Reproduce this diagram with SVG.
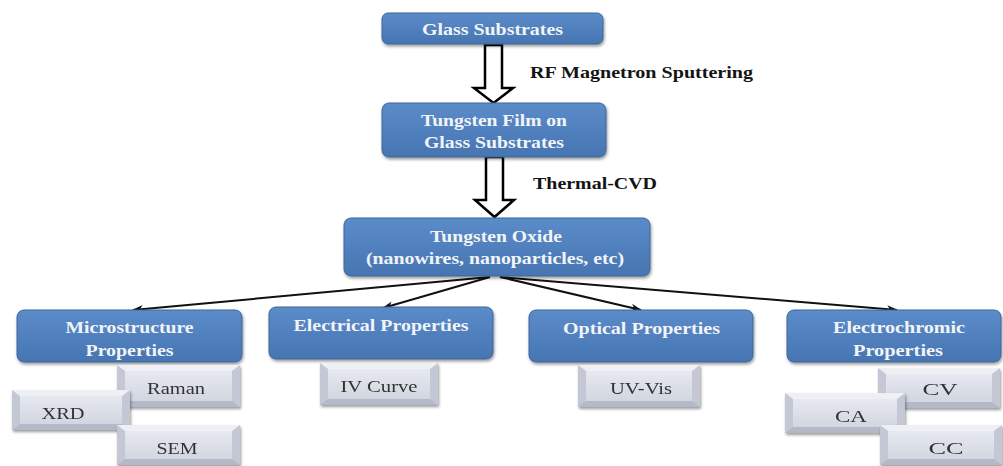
<svg xmlns="http://www.w3.org/2000/svg" width="1003" height="466" viewBox="0 0 1003 466">
<style>
.bb{fill:url(#gBlue);stroke:#3d6698;stroke-width:1;filter:url(#sh)}
.bt{font-family:"Liberation Serif","Times New Roman",serif;font-weight:bold;font-size:17px;fill:#f2f4f8;text-anchor:middle}
.lbl{font-family:"Liberation Serif","Times New Roman",serif;font-weight:bold;font-size:17px;fill:#141414}
.gt{font-family:"Liberation Serif","Times New Roman",serif;font-size:16px;fill:#333;text-anchor:middle}
.blk{fill:#fff;stroke:#000;stroke-width:2.5;stroke-linejoin:miter}
.con{fill:none;stroke:#111;stroke-width:2;marker-end:url(#ah)}
.bo{fill:#c3c8d4}
.btop{fill:#eef0f5}
.bbot{fill:#b3b9c7}
.bin{fill:url(#gGray)}
</style>
<defs>
<linearGradient id="gBlue" x1="0" y1="0" x2="0" y2="1">
<stop offset="0" stop-color="#5b8cc9"/>
<stop offset="1" stop-color="#4675b2"/>
</linearGradient>
<linearGradient id="gGray" x1="0" y1="0" x2="0" y2="1">
<stop offset="0" stop-color="#e6e9f0"/>
<stop offset="1" stop-color="#d2d6e0"/>
</linearGradient>
<filter id="sh" x="-10%" y="-20%" width="130%" height="160%">
<feGaussianBlur in="SourceAlpha" stdDeviation="1.5"/>
<feOffset dx="1" dy="2" result="b"/>
<feComponentTransfer><feFuncA type="linear" slope="0.4"/></feComponentTransfer>
<feMerge><feMergeNode/><feMergeNode in="SourceGraphic"/></feMerge>
</filter>
<marker id="ah" markerWidth="12" markerHeight="10" refX="10" refY="4" orient="auto" markerUnits="userSpaceOnUse">
<path d="M0,0 L11,4 L0,8 L3,4 Z" fill="#111"/>
</marker>
<g id="bevel">
</g>
</defs>
<rect width="1003" height="466" fill="#fff"/>

<g id="connectors">
<path class="blk" d="M485,45 L502,45 L502,88 L513,88 L493.5,103 L474,88 L485,88 Z"/>
<path class="blk" d="M486,157 L503,157 L503,200 L514,200 L494.5,217 L475,200 L486,200 Z"/>
<line class="con" x1="490" y1="277" x2="133" y2="310"/>
<line class="con" x1="490" y1="277" x2="383" y2="308"/>
<line class="con" x1="500" y1="277" x2="641" y2="310"/>
<line class="con" x1="500" y1="277" x2="897" y2="310"/>
<text class="lbl" x="530" y="78" textLength="223" lengthAdjust="spacingAndGlyphs">RF Magnetron Sputtering</text>
<text class="lbl" x="533" y="189" textLength="124" lengthAdjust="spacingAndGlyphs">Thermal-CVD</text>
</g>

<g id="glass">
<rect class="bb" x="382" y="13" width="221" height="31" rx="6"/>
<text class="bt" x="492.5" y="35" textLength="141" lengthAdjust="spacingAndGlyphs">Glass Substrates</text>
</g>

<g id="film">
<rect class="bb" x="382" y="103" width="224" height="54" rx="7"/>
<text class="bt" x="494" y="126" textLength="146" lengthAdjust="spacingAndGlyphs">Tungsten Film on</text>
<text class="bt" x="494" y="148" textLength="140" lengthAdjust="spacingAndGlyphs">Glass Substrates</text>
</g>

<g id="oxide">
<rect class="bb" x="344" y="218" width="306" height="58" rx="7"/>
<text class="bt" x="496" y="242" textLength="132" lengthAdjust="spacingAndGlyphs">Tungsten Oxide</text>
<text class="bt" x="495" y="264" textLength="258" lengthAdjust="spacingAndGlyphs">(nanowires, nanoparticles, etc)</text>
</g>

<g id="micro">
<rect class="bb" x="17" y="310" width="225" height="52" rx="7"/>
<text class="bt" x="129.5" y="333" textLength="128" lengthAdjust="spacingAndGlyphs">Microstructure</text>
<text class="bt" x="129.5" y="356" textLength="88" lengthAdjust="spacingAndGlyphs">Properties</text>
</g>

<g id="electrical">
<rect class="bb" x="269" y="307" width="224" height="52" rx="7"/>
<text class="bt" x="381" y="331" textLength="175" lengthAdjust="spacingAndGlyphs">Electrical Properties</text>
</g>

<g id="optical">
<rect class="bb" x="529" y="310" width="224" height="52" rx="7"/>
<text class="bt" x="641.5" y="334" textLength="157" lengthAdjust="spacingAndGlyphs">Optical Properties</text>
</g>

<g id="electrochromic">
<rect class="bb" x="787" y="310" width="214" height="52" rx="7"/>
<text class="bt" x="899" y="333" textLength="132" lengthAdjust="spacingAndGlyphs">Electrochromic</text>
<text class="bt" x="898" y="356" textLength="90" lengthAdjust="spacingAndGlyphs">Properties</text>
</g>

<g id="raman" filter="url(#sh)">
<rect class="bo" x="117" y="365" width="123" height="42"/>
<path class="btop" d="M117,365 L240,365 L232,371 L125,371 Z"/>
<path class="bbot" d="M117,407 L240,407 L232,401 L125,401 Z"/>
<rect class="bin" x="125" y="371" width="107" height="30"/>
<text class="gt" x="176" y="394" textLength="58" lengthAdjust="spacingAndGlyphs">Raman</text>
</g>

<g id="xrd" filter="url(#sh)">
<rect class="bo" x="12" y="390" width="118" height="40"/>
<path class="btop" d="M12,390 L130,390 L122,396 L20,396 Z"/>
<path class="bbot" d="M12,430 L130,430 L122,424 L20,424 Z"/>
<rect class="bin" x="20" y="396" width="102" height="28"/>
<text class="gt" x="63" y="419" textLength="43" lengthAdjust="spacingAndGlyphs">XRD</text>
</g>

<g id="sem" filter="url(#sh)">
<rect class="bo" x="117" y="425" width="123" height="40"/>
<path class="btop" d="M117,425 L240,425 L232,431 L125,431 Z"/>
<path class="bbot" d="M117,465 L240,465 L232,459 L125,459 Z"/>
<rect class="bin" x="125" y="431" width="107" height="28"/>
<text class="gt" x="177" y="454" textLength="41" lengthAdjust="spacingAndGlyphs">SEM</text>
</g>

<g id="ivcurve" filter="url(#sh)">
<rect class="bo" x="320" y="363" width="118" height="42"/>
<path class="btop" d="M320,363 L438,363 L430,369 L328,369 Z"/>
<path class="bbot" d="M320,405 L438,405 L430,399 L328,399 Z"/>
<rect class="bin" x="328" y="369" width="102" height="30"/>
<text class="gt" x="379" y="392" textLength="77" lengthAdjust="spacingAndGlyphs">IV Curve</text>
</g>

<g id="uvvis" filter="url(#sh)">
<rect class="bo" x="578" y="365" width="122" height="42"/>
<path class="btop" d="M578,365 L700,365 L692,371 L586,371 Z"/>
<path class="bbot" d="M578,407 L700,407 L692,401 L586,401 Z"/>
<rect class="bin" x="586" y="371" width="106" height="30"/>
<text class="gt" x="641" y="394" textLength="62" lengthAdjust="spacingAndGlyphs">UV-Vis</text>
</g>

<g id="cv" filter="url(#sh)">
<rect class="bo" x="878" y="368" width="122" height="40"/>
<path class="btop" d="M878,368 L1000,368 L992,374 L886,374 Z"/>
<path class="bbot" d="M878,408 L1000,408 L992,402 L886,402 Z"/>
<rect class="bin" x="886" y="374" width="106" height="28"/>
<text class="gt" x="940" y="395" textLength="35" lengthAdjust="spacingAndGlyphs">CV</text>
</g>

<g id="ca" filter="url(#sh)">
<rect class="bo" x="785" y="393" width="120" height="40"/>
<path class="btop" d="M785,393 L905,393 L897,399 L793,399 Z"/>
<path class="bbot" d="M785,433 L905,433 L897,427 L793,427 Z"/>
<rect class="bin" x="793" y="399" width="104" height="28"/>
<text class="gt" x="851" y="422" textLength="32" lengthAdjust="spacingAndGlyphs">CA</text>
</g>

<g id="cc" filter="url(#sh)">
<rect class="bo" x="880" y="425" width="122" height="40"/>
<path class="btop" d="M880,425 L1002,425 L994,431 L888,431 Z"/>
<path class="bbot" d="M880,465 L1002,465 L994,459 L888,459 Z"/>
<rect class="bin" x="888" y="431" width="106" height="28"/>
<text class="gt" x="946" y="454" textLength="35" lengthAdjust="spacingAndGlyphs">CC</text>
</g>
</svg>
